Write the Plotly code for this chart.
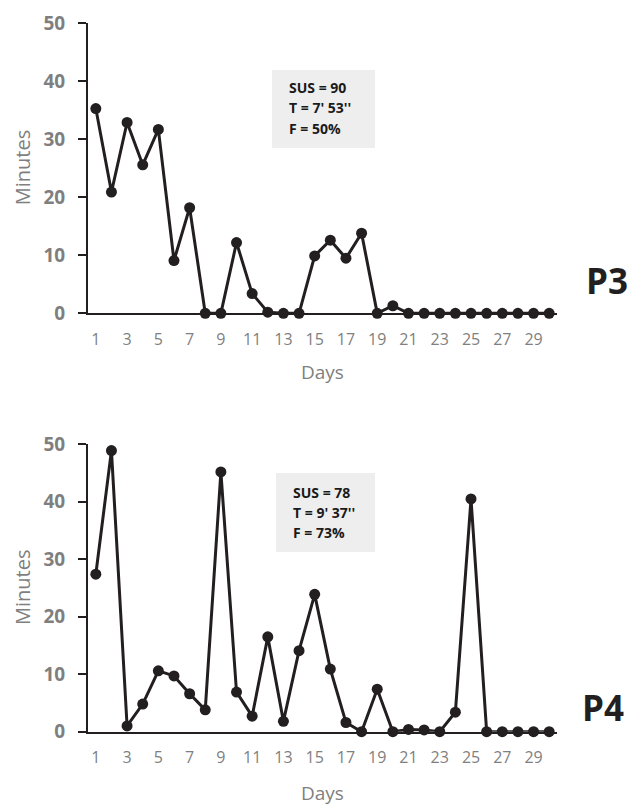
import plotly.graph_objects as go

days = list(range(1, 31))
p3_minutes = [35.3, 20.9, 32.9, 25.6, 31.7, 9.1, 18.2, 0, 0, 12.2,
              3.4, 0.2, 0, 0, 9.9, 12.6, 9.5, 13.8, 0, 1.3,
              0, 0, 0, 0, 0, 0, 0, 0, 0, 0]
p4_minutes = [27.4, 48.9, 1.0, 4.8, 10.6, 9.7, 6.6, 3.8, 45.2, 6.9,
              2.7, 16.5, 1.8, 14.1, 23.9, 10.9, 1.6, 0, 7.4, 0,
              0.4, 0.3, 0, 3.4, 40.5, 0, 0, 0, 0, 0]
x_tick_vals = list(range(1, 30, 2))
x_tick_text = [str(v) for v in x_tick_vals]
y_tick_vals = [0, 10, 20, 30, 40, 50]
p3_stats = ["SUS = 90", "T = 7' 53''", "F = 50%"]
p4_stats = ["SUS = 78", "T = 9' 37''", "F = 73%"]
panel_labels = ["P3", "P4"]

W, H = 628, 805
FONT = "Open Sans"
GRAY = "#7f7f7f"
INK = "#231f20"

def px(x):
    return x / W

def py(y):
    return 1 - y / H

fig = go.Figure()

panels = [
    dict(data=p3_minutes, xa="x", ya="y", ydom=[py(313.3), py(23.3)],
         box=(272, 70, 375, 148), textx=289, texty=[88, 108, 128],
         stats=p3_stats, lab=panel_labels[0], labxy=(607, 280), days_y=372),
    dict(data=p4_minutes, xa="x2", ya="y2", ydom=[py(731.7), py(444.3)],
         box=(276, 473, 375, 552), textx=293, texty=[492, 512, 532],
         stats=p4_stats, lab=panel_labels[1], labxy=(603, 707), days_y=793),
]

shapes = []
annotations = []
for i, p in enumerate(panels):
    fig.add_trace(go.Scatter(
        x=days, y=p["data"], xaxis=p["xa"], yaxis=p["ya"],
        mode="lines+markers",
        line=dict(color=INK, width=3),
        marker=dict(color=INK, size=11),
        cliponaxis=False, showlegend=False, hoverinfo="x+y"))
    suffix = "" if i == 0 else str(i + 1)
    fig.layout["xaxis" + suffix] = dict(
        domain=[px(88), px(557)], range=[0.5, 30.5], anchor="y" + suffix,
        showline=True, linecolor=INK, linewidth=2, showgrid=False,
        zeroline=False, ticks="", tickvals=x_tick_vals, ticktext=x_tick_text,
        tickfont=dict(family=FONT, size=16, color=GRAY),
        ticklabelstandoff=10, layer="below traces", automargin=False)
    fig.layout["yaxis" + suffix] = dict(
        domain=p["ydom"], range=[0, 50], anchor="x" + suffix,
        showline=True, linecolor=INK, linewidth=2, showgrid=False,
        zeroline=False, ticks="outside", ticklen=8, tickwidth=1.5,
        tickcolor=INK, tickvals=y_tick_vals,
        tickfont=dict(family=FONT, size=19, color=GRAY, weight="bold"),
        ticklabelstandoff=9, layer="below traces", automargin=False)
    x0, y0, x1, y1 = p["box"]
    shapes.append(dict(type="rect", xref="paper", yref="paper",
                       x0=px(x0), x1=px(x1), y0=py(y1), y1=py(y0),
                       fillcolor="#eeeeee", line=dict(width=0), layer="below"))
    for t, ty in zip(p["stats"], p["texty"]):
        annotations.append(dict(text=t, xref="paper", yref="paper",
                                x=px(p["textx"] - 2), y=py(ty), xanchor="left",
                                yanchor="middle", showarrow=False,
                                font=dict(family=FONT, size=14, color="#1a1a1a",
                                          weight="bold")))
    lx, ly = p["labxy"]
    annotations.append(dict(text=p["lab"], xref="paper", yref="paper",
                            x=px(lx), y=py(ly), xanchor="center", yanchor="middle",
                            showarrow=False,
                            font=dict(family=FONT, size=35, color=INK, weight="bold")))
    mid_y = (p["ydom"][0] + p["ydom"][1]) / 2
    annotations.append(dict(text="Minutes", xref="paper", yref="paper",
                            x=px(22), y=mid_y, textangle=-90, xanchor="center",
                            yanchor="middle", showarrow=False,
                            font=dict(family=FONT, size=20, color=GRAY)))
    annotations.append(dict(text="Days", xref="paper", yref="paper",
                            x=px(322.5), y=py(p["days_y"]), xanchor="center",
                            yanchor="middle", showarrow=False,
                            font=dict(family=FONT, size=19, color=GRAY)))

fig.update_layout(
    width=W, height=H,
    margin=dict(l=0, r=0, t=0, b=0, pad=0, autoexpand=False),
    paper_bgcolor="white", plot_bgcolor="white",
    shapes=shapes, annotations=annotations, showlegend=False)

fig.write_html(
    "out.html", config={"displayModeBar": False},
    post_script="document.body.style.margin='0';"
                "document.documentElement.style.overflow='hidden';")
